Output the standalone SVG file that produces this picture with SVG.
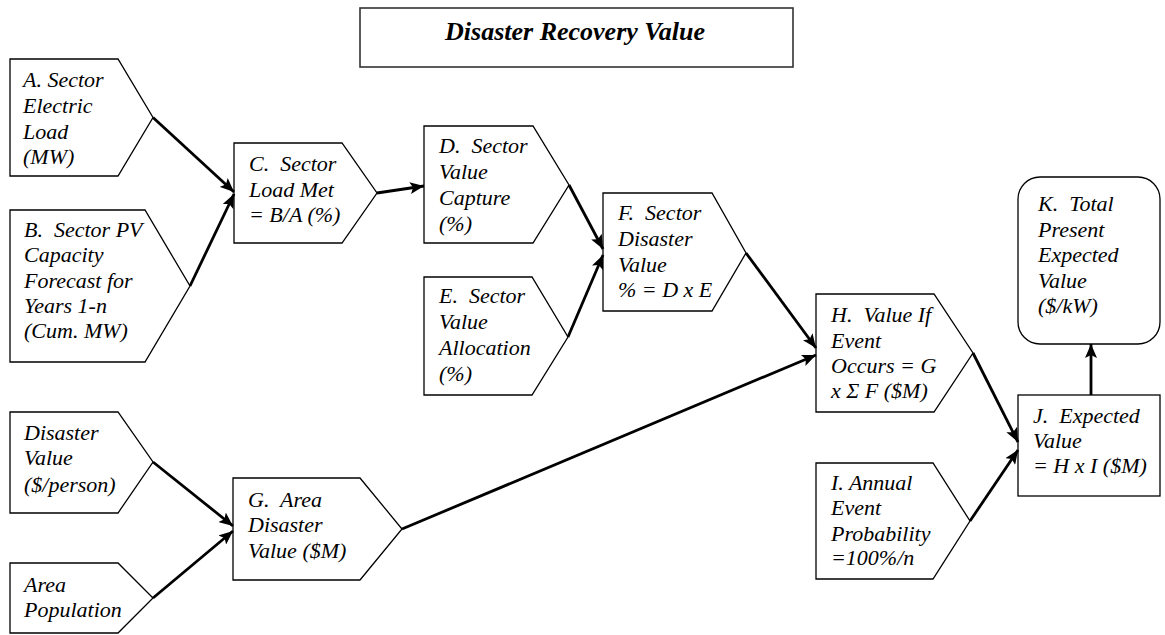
<svg xmlns="http://www.w3.org/2000/svg" width="1165" height="635" viewBox="0 0 1165 635" xml:space="preserve">
<style>
.n{fill:#fff;stroke:#000;stroke-width:1.3}
.t{font-family:'Liberation Serif','Times New Roman',serif;font-style:italic;font-size:22px;fill:#000;white-space:pre}
.ttl{font-family:'Liberation Serif','Times New Roman',serif;font-style:italic;font-weight:bold;font-size:26px;fill:#000}
.c{stroke:#000;stroke-width:2.8;fill:none;marker-end:url(#ah)}
</style>
<defs>
<marker id="ah" markerUnits="userSpaceOnUse" markerWidth="16" markerHeight="12" refX="14" refY="6" orient="auto">
<path d="M0,0 L14,6 L0,12 L3,6 Z" fill="#000"/>
</marker>
</defs>
<rect width="1165" height="635" fill="#fff"/>
<g id="title">
<rect x="360" y="8" width="433" height="59" fill="#fff" stroke="#333" stroke-width="1.6"/>
<text class="ttl" x="575" y="40" text-anchor="middle">Disaster Recovery Value</text>
</g>
<g id="nodeA">
<polygon class="n" points="10,59 118,59 153,117.5 118,176 10,176"/>
<text class="t" x="23" y="87">A. Sector</text>
<text class="t" x="23" y="113">Electric</text>
<text class="t" x="23" y="139">Load</text>
<text class="t" x="23" y="164">(MW)</text>
</g>
<g id="nodeB">
<polygon class="n" points="10,210 145,210 190,286 145,362 10,362"/>
<text class="t" x="24" y="237">B.  Sector PV</text>
<text class="t" x="24" y="262">Capacity</text>
<text class="t" x="24" y="288">Forecast for</text>
<text class="t" x="24" y="313">Years 1-n</text>
<text class="t" x="24" y="338">(Cum. MW)</text>
</g>
<g id="nodeC">
<polygon class="n" points="234,143 342,143 377,193 342,243 234,243"/>
<text class="t" x="249" y="171">C.  Sector</text>
<text class="t" x="249" y="197">Load Met</text>
<text class="t" x="249" y="222">= B/A (%)</text>
</g>
<g id="nodeD">
<polygon class="n" points="424,126 533,126 569,185 533,243 424,243"/>
<text class="t" x="439" y="153">D.  Sector</text>
<text class="t" x="439" y="179">Value</text>
<text class="t" x="439" y="205">Capture</text>
<text class="t" x="439" y="231">(%)</text>
</g>
<g id="nodeE">
<polygon class="n" points="424,277 532,277 568,337 532,395 424,395"/>
<text class="t" x="439" y="303">E.  Sector</text>
<text class="t" x="439" y="329">Value</text>
<text class="t" x="439" y="355">Allocation</text>
<text class="t" x="439" y="381">(%)</text>
</g>
<g id="nodeF">
<polygon class="n" points="603,193 712,193 746,253 712,311 603,311"/>
<text class="t" x="618" y="220">F.  Sector</text>
<text class="t" x="618" y="246">Disaster</text>
<text class="t" x="618" y="272">Value</text>
<text class="t" x="618" y="297">% = D x E</text>
</g>
<g id="nodeG">
<polygon class="n" points="233,478 360,478 402,529 360,580 233,580"/>
<text class="t" x="248" y="507">G.  Area</text>
<text class="t" x="248" y="532">Disaster</text>
<text class="t" x="248" y="558">Value ($M)</text>
</g>
<g id="nodeH">
<polygon class="n" points="816,294 934,294 973,353 934,412 816,412"/>
<text class="t" x="831" y="322">H.  Value If</text>
<text class="t" x="831" y="348">Event</text>
<text class="t" x="831" y="373">Occurs = G</text>
<text class="t" x="831" y="398">x Σ F ($M)</text>
</g>
<g id="nodeI">
<polygon class="n" points="816,463 933,463 970,521 933,579 816,579"/>
<text class="t" x="831" y="490">I. Annual</text>
<text class="t" x="831" y="515">Event</text>
<text class="t" x="831" y="541">Probability</text>
<text class="t" x="831" y="565">=100%/n</text>
</g>
<g id="nodeJ">
<rect class="n" x="1018" y="395" width="142" height="101"/>
<text class="t" x="1033" y="423">J.  Expected</text>
<text class="t" x="1033" y="448">Value</text>
<text class="t" x="1033" y="473">= H x I ($M)</text>
</g>
<g id="nodeK">
<rect class="n" x="1018" y="177" width="142" height="167" rx="22" ry="22"/>
<text class="t" x="1038" y="211">K.  Total</text>
<text class="t" x="1038" y="237">Present</text>
<text class="t" x="1038" y="262">Expected</text>
<text class="t" x="1038" y="288">Value</text>
<text class="t" x="1038" y="313">($/kW)</text>
</g>
<g id="nodeDV">
<polygon class="n" points="10,412 118,412 153,462 118,513 10,513"/>
<text class="t" x="24" y="440">Disaster</text>
<text class="t" x="24" y="465">Value</text>
<text class="t" x="24" y="492">($/person)</text>
</g>
<g id="nodeAP">
<polygon class="n" points="10,563 118,563 153,598 118,633 10,633"/>
<text class="t" x="24" y="592">Area</text>
<text class="t" x="24" y="617">Population</text>
</g>
<g id="connectors">
<line class="c" x1="153" y1="117.5" x2="234" y2="192"/>
<line class="c" x1="190" y1="286" x2="234" y2="194"/>
<line class="c" x1="377" y1="193" x2="424" y2="186"/>
<line class="c" x1="569" y1="185" x2="603" y2="249"/>
<line class="c" x1="568" y1="337" x2="603" y2="255"/>
<line class="c" x1="746" y1="253" x2="816" y2="348"/>
<line class="c" x1="402" y1="529" x2="816" y2="355"/>
<line class="c" x1="973" y1="353" x2="1018" y2="442"/>
<line class="c" x1="970" y1="521" x2="1018" y2="450"/>
<line class="c" x1="1091" y1="395" x2="1091" y2="344"/>
<line class="c" x1="153" y1="462" x2="233" y2="526"/>
<line class="c" x1="153" y1="598" x2="233" y2="531"/>
</g>
</svg>
